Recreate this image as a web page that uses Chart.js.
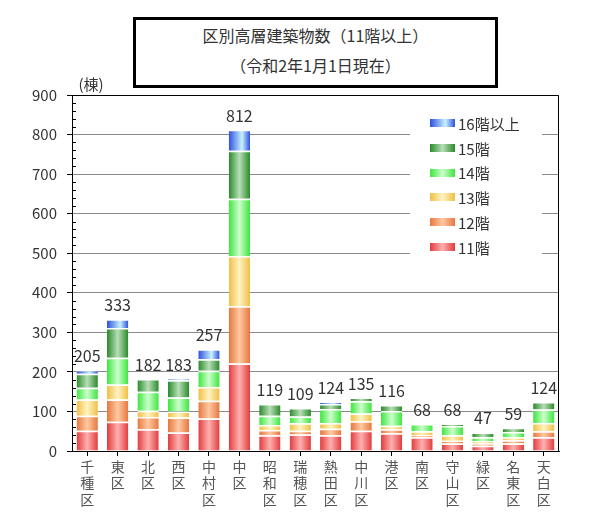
<!DOCTYPE html>
<html><head><meta charset="utf-8">
<script src="https://cdn.jsdelivr.net/npm/chart.js@4/dist/chart.umd.min.js"></script>
<style>
html,body{margin:0;padding:0;background:#fff;}
#wrap{position:relative;width:596px;height:526px;}
#title{position:absolute;left:133px;top:17px;width:359px;height:65px;border:3px solid #000;
 font-family:"Noto Sans CJK JP","Noto Sans",sans-serif;font-size:16px;color:#333;text-align:center;background:#fff;}
#title div{line-height:30px;height:30px;}
canvas{position:absolute;left:0;top:0;}
</style></head>
<body>
<div id="wrap">
<canvas id="c" width="596" height="526" style="width:596px;height:526px"></canvas>
<div id="title"><div>区別高層建築物数（11階以上）</div><div>（令和2年1月1日現在）</div></div>
</div>
<script>
const categories = ['千種区','東区','北区','西区','中村区','中区','昭和区','瑞穂区','熱田区','中川区','港区','南区','守山区','緑区','名東区','天白区'];
const seriesNames = ['11階','12階','13階','14階','15階','16階以上'];
const floor11 = [51,74,55,47,82,221,40,42,40,51,45,35,19,13,19,35];
const floor12 = [38,56,31,38,45,145,13,9,16,24,10,5,7,6,8,15];
const floor13 = [41,38,16,15,35,127,13,19,15,20,9,10,14,6,8,21];
const floor14 = [30,68,48,35,41,145,23,17,35,31,37,18,23,10,13,34];
const floor15 = [35,75,32,44,29,121,30,22,13,9,15,0,5,12,11,19];
const floor16 = [10,22,0,4,25,53,0,0,5,0,0,0,0,0,0,0];
const yTicks = [0,100,200,300,400,500,600,700,800,900];
const unitLabel = '(棟)';

const seriesValues = [floor11,floor12,floor13,floor14,floor15,floor16];
const totals = categories.map((_,i)=>seriesValues.reduce((s,a)=>s+a[i],0));

// styles: [edge, highlight, highlightPos]
const seriesColors = [
  ['#e23c3c','#ffb0b0',0.5],
  ['#e6773e','#ffc9a2',0.5],
  ['#f0bf45','#fff3c2',0.5],
  ['#3de63d','#ccffcc',0.5],
  ['#2a8a2a','#b8deb8',0.5],
  ['#2f4fde','#c6f2ff',0.62]
];
const BAR_PCT = 0.7;
const FONT = '"Noto Sans CJK JP","Noto Sans",sans-serif';

function makeGrad(ctx, x0, x1, c){
  const g = ctx.createLinearGradient(x0,0,x1,0);
  g.addColorStop(0,c[0]); g.addColorStop(c[2],c[1]); g.addColorStop(1,c[0]);
  return g;
}

const datasets = seriesValues.map((vals,si)=>({
  label: seriesNames[si],
  data: vals,
  borderColor: '#ffffff',
  borderWidth: {top:1.5,left:0,right:0,bottom:0},
  borderSkipped: 'start',
  categoryPercentage: 1,
  barPercentage: BAR_PCT,
  backgroundColor: (c)=>{
    const ch = c.chart, xs = ch.scales && ch.scales.x;
    if (!xs || c.dataIndex === undefined) return seriesColors[si][0];
    const cx = xs.getPixelForValue(c.dataIndex);
    const w = xs.width / categories.length * BAR_PCT;
    if (!isFinite(cx) || !isFinite(w) || w <= 0) return seriesColors[si][0];
    return makeGrad(ch.ctx, cx - w/2, cx + w/2, seriesColors[si]);
  }
}));

const extras = {
  id:'extras',
  afterDatasetsDraw(chart){
    const ctx = chart.ctx, a = chart.chartArea, ys = chart.scales.y;
    ctx.save();
    ctx.strokeStyle='#000'; ctx.lineWidth=1;
    ctx.beginPath();
    ctx.moveTo(a.left, a.top+0.5); ctx.lineTo(a.right-0.5, a.top+0.5); ctx.lineTo(a.right-0.5, a.bottom);
    ctx.stroke();
    ctx.beginPath();
    for (let v=20; v<900; v+=20){
      if (v%100===0) continue;
      const y = Math.round(ys.getPixelForValue(v))+0.5;
      ctx.moveTo(a.left, y); ctx.lineTo(a.left+4, y);
    }
    ctx.stroke();
    const top = chart.getDatasetMeta(chart.data.datasets.length-1);
    ctx.fillStyle='#333'; ctx.font='16px '+FONT; ctx.textAlign='center'; ctx.textBaseline='alphabetic';
    totals.forEach((t,i)=>{ const el = top.data[i]; ctx.fillText(String(t), el.x, el.y-8); });
    ctx.font='15px '+FONT; ctx.fillStyle='#333'; ctx.textBaseline='middle';
    ctx.fillText(unitLabel, 91, 84);
    ctx.fillStyle='#fff'; ctx.fillRect(410, 101, 132, 160);
    ctx.font='15px '+FONT; ctx.textAlign='left'; ctx.textBaseline='middle';
    const n = chart.data.datasets.length;
    for (let k=0;k<n;k++){
      const si = n-1-k;
      const y = 123 + k*24.8;
      ctx.fillStyle = makeGrad(ctx, 430, 455, seriesColors[si]);
      ctx.fillRect(430, Math.round(y-4), 25, 8);
      ctx.fillStyle='#333';
      ctx.fillText(chart.data.datasets[si].label, 458, y+1);
    }
    ctx.restore();
  }
};

new Chart(document.getElementById('c'), {
  type:'bar',
  data:{ labels: categories.map(s=>s.split('')), datasets },
  options:{
    responsive:false, animation:false, devicePixelRatio:1,
    layout:{padding:{top:95,right:37,left:0,bottom:0}},
    plugins:{legend:{display:false}, tooltip:{enabled:false}, title:{display:false}},
    scales:{
      x:{ stacked:true, offset:true,
          grid:{display:true, drawOnChartArea:false, offset:false, tickLength:5, tickColor:'#000'},
          border:{color:'#000', width:1},
          ticks:{font:{family:FONT,size:14,lineHeight:1.18}, color:'#555', padding:2, maxRotation:0, minRotation:0, autoSkip:false},
          afterFit:(s)=>{ s.height = 75; } },
      y:{ stacked:true, min:yTicks[0], max:yTicks[yTicks.length-1],
          afterBuildTicks:(s)=>{ s.ticks = yTicks.map(v=>({value:v})); },
          ticks:{font:{family:FONT,size:15}, color:'#333', padding:10},
          grid:{color:'#8a8a8a', tickColor:'#000', tickLength:5, lineWidth:1},
          border:{color:'#000', width:1},
          afterFit:(s)=>{ s.width = 72; } }
    }
  },
  plugins:[extras]
});
</script>
</body></html>
